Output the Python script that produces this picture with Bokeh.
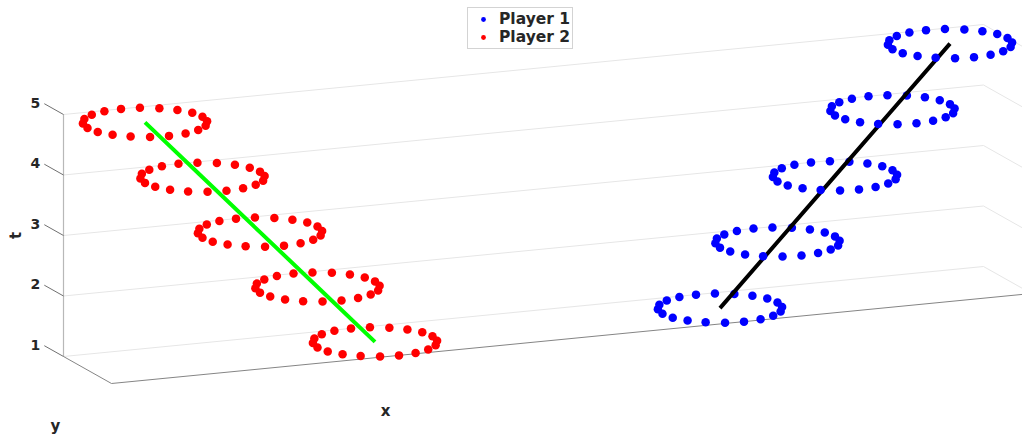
import numpy as np
from bokeh.plotting import figure
from bokeh.models import Range1d, Legend, LegendItem
from bokeh.core.properties import value
from bokeh.embed import file_html
from bokeh.resources import INLINE

# ---- data -------------------------------------------------------------
t_levels = [1, 2, 3, 4, 5]
player1_x = [11, 12, 13, 14, 15]
player1_y = [0, 0, 0, 0, 0]
player2_x = [5, 4, 3, 2, 1]
player2_y = [0, 0, 0, 0, 0]
ring_radius = 1.0
ring_points = 20

t_ticks = [1, 2, 3, 4, 5]
t_tick_labels = ["1", "2", "3", "4", "5"]

x_lim = (0.0, 16.0)
y_lim = (-1.0, 1.0)
t_lim = (1.0, 5.0)

# ---- orthographic view of the axes box (screen pixels) ------------------
W, H = 1022, 437
ORIGIN = np.array([63.0, 356.0])     # corner (x_min, y_min, t_min)
X_SPAN = np.array([920.0, -90.0])    # whole x range
Y_SPAN = np.array([48.0, 27.0])      # whole y range
T_SPAN = np.array([0.0, -242.0])     # whole t range


def project(x, y, t):
    x = np.asarray(x, dtype=float)
    y = np.asarray(y, dtype=float)
    t = np.asarray(t, dtype=float)
    fx = (x - x_lim[0]) / (x_lim[1] - x_lim[0])
    fy = (y - y_lim[0]) / (y_lim[1] - y_lim[0])
    ft = (t - t_lim[0]) / (t_lim[1] - t_lim[0])
    sx = ORIGIN[0] + fx * X_SPAN[0] + fy * Y_SPAN[0] + ft * T_SPAN[0]
    sy = ORIGIN[1] + fx * X_SPAN[1] + fy * Y_SPAN[1] + ft * T_SPAN[1]
    return sx.tolist(), sy.tolist()


p = figure(width=W, height=H, x_range=Range1d(0, W), y_range=Range1d(H, 0),
           x_axis_type=None, y_axis_type=None, toolbar_location=None,
           output_backend="svg", min_border=0, outline_line_color=None)
p.background_fill_color = "white"
p.border_fill_color = "white"

FONT_NAME = "DejaVu Sans"
FONT = value(FONT_NAME)
TEXT_COLOR = "#262626"

# grid lines on the back and right walls
gx, gy = [], []
for t in t_ticks:
    sx, sy = project([x_lim[0], x_lim[1], x_lim[1]],
                     [y_lim[0], y_lim[0], y_lim[1]], [t] * 3)
    gx.append(sx)
    gy.append(sy)
p.multi_line(gx, gy, line_color="#e6e6e6", line_width=1)

# t axis (back-left vertical edge)
sx, sy = project([x_lim[0]] * 2, [y_lim[0]] * 2, [t_lim[0], t_lim[1]])
p.line(sx, sy, line_color="#b8b8b8", line_width=1.2)

# floor edges for y and x axes
sx, sy = project([x_lim[0], x_lim[0], x_lim[1]],
                 [y_lim[0], y_lim[1], y_lim[1]], [t_lim[0]] * 3)
p.line(sx, sy, line_color="#858585", line_width=1)

# t ticks and labels
tick_len = 0.4 * (y_lim[1] - y_lim[0])
tx, ty = [], []
lx, ly = [], []
for t in t_ticks:
    sx, sy = project([x_lim[0], x_lim[0]], [y_lim[0], y_lim[0] - tick_len], [t, t])
    tx.append(sx)
    ty.append(sy)
    lx.append(sx[1])
    ly.append(sy[1])
p.multi_line(tx, ty, line_color="#707070", line_width=1)
p.text(lx, ly, text=t_tick_labels, x_offset=-4, y_offset=-1,
       text_align="right", text_baseline="middle", text_font=FONT,
       text_font_style="bold", text_font_size="14px", text_color=TEXT_COLOR)

# axis labels
label_style = dict(text_align="center", text_baseline="middle",
                   text_font=FONT, text_font_style="bold",
                   text_font_size="15px", text_color=TEXT_COLOR)
p.text([385], [410], text=["x"], **label_style)
p.text([55], [425], text=["y"], **label_style)
p.text([15], [235], text=["t"], angle=np.pi / 2, **label_style)

theta = np.arange(ring_points) * 2 * np.pi / ring_points


def draw_player(cx, cy, dot_color, path_color):
    back_x, back_y, front_x, front_y = [], [], [], []
    for x0, y0, t in zip(cx, cy, t_levels):
        rx = x0 + ring_radius * np.cos(theta)
        ry = y0 + ring_radius * np.sin(theta)
        sx, sy = project(rx, ry, np.full_like(rx, t))
        for a, u, v in zip(theta, sx, sy):
            if np.sin(a) > 1e-9:
                front_x.append(u)
                front_y.append(v)
            else:
                back_x.append(u)
                back_y.append(v)
    p.scatter(back_x, back_y, size=8.5, fill_color=dot_color, line_color=None)
    px, py = project(cx, cy, t_levels)
    p.line(px, py, line_color=path_color, line_width=4)
    return p.scatter(front_x, front_y, size=8.5, fill_color=dot_color,
                     line_color=None)


r1 = draw_player(player1_x, player1_y, "#0000ff", "#000000")
r2 = draw_player(player2_x, player2_y, "#ff0000", "#00ff00")

legend = Legend(items=[LegendItem(label="Player 1", renderers=[r1]),
                       LegendItem(label="Player 2", renderers=[r2])],
                location=(467, H - 49), padding=2, spacing=0,
                glyph_width=26, glyph_height=12, label_height=18,
                label_standoff=3, label_text_font=FONT_NAME,
                label_text_font_style="bold", label_text_font_size="15.5px",
                label_text_color=TEXT_COLOR, border_line_color="#a8a8a8",
                border_line_width=1, background_fill_color="white",
                background_fill_alpha=1.0)
p.add_layout(legend, "center")

open("out.html", "w").write(file_html(p, INLINE))
